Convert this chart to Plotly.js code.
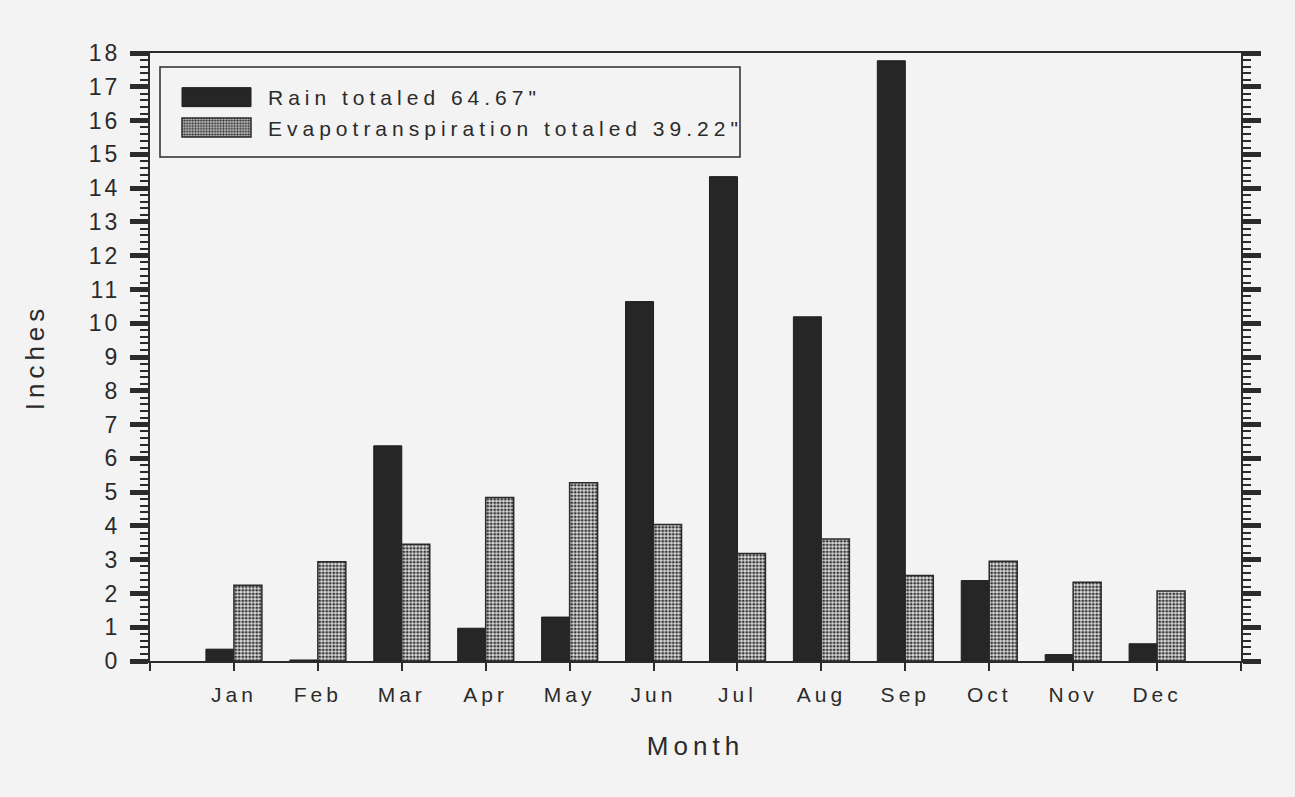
<!DOCTYPE html>
<html>
<head>
<meta charset="utf-8">
<script src="https://cdn.plot.ly/plotly-3.0.1.min.js"></script>
<style>
  html, body { margin: 0; padding: 0; background: #f3f3f3; }
  #chart { width: 1295px; height: 797px; }
  .xtick text { letter-spacing: 4px; }
  .ytick text { letter-spacing: 3px; }
  .legendtext { letter-spacing: 5px; }
  .xtitle, .ytitle { letter-spacing: 5px; }
</style>
</head>
<body>
<div id="chart"></div>
<script>
// ---- data ----
const months = ["Jan","Feb","Mar","Apr","May","Jun","Jul","Aug","Sep","Oct","Nov","Dec"];
const rain = [0.35, 0.03, 6.37, 0.97, 1.30, 10.64, 14.34, 10.19, 17.77, 2.38, 0.19, 0.51];
const evapotranspiration = [2.24, 2.94, 3.46, 4.84, 5.28, 4.04, 3.18, 3.61, 2.53, 2.95, 2.33, 2.07];
const rainName = 'Rain totaled 64.67"';
const etName = 'Evapotranspiration totaled 39.22"';
const yTicks = [0,1,2,3,4,5,6,7,8,9,10,11,12,13,14,15,16,17,18];

const idx = months.map((m, i) => i);
const tickVals = [-1].concat(idx, [months.length]);
const tickText = [""].concat(months, [""]);

const ink = "#2b2b2b";
const font = "Liberation Sans, Arial, sans-serif";

const traces = [
  {
    type: "bar", name: rainName, x: idx, y: rain,
    legendgroup: "rain",
    marker: { color: "#262626", line: { color: "#1e1e1e", width: 1 } },
    hoverinfo: "y"
  },
  {
    type: "bar", name: etName, x: idx, y: evapotranspiration,
    legendgroup: "et",
    marker: {
      color: "#333333",
      line: { color: "#2a2a2a", width: 1.5 },
      pattern: { shape: ".", fgcolor: "#333333", bgcolor: "#dadada", size: 3.5, solidity: 0.5, fillmode: "replace" }
    },
    hoverinfo: "y"
  }
];

const PL = 150, PR = 1241, PT = 53, PB = 661;
const pw = PR - PL, ph = PB - PT;

const layout = {
  width: 1295, height: 797,
  paper_bgcolor: "#f3f3f3", plot_bgcolor: "#f3f3f3",
  margin: { l: PL, r: 1295 - PR, t: PT, b: 797 - PB, pad: 0 },
  barmode: "group", bargap: 0.333, bargroupgap: 0,
  font: { family: font, color: ink },
  showlegend: true,
  legend: {
    x: (165 - PL) / pw, xanchor: "left",
    y: (PB - 77) / ph, yanchor: "top",
    bgcolor: "rgba(0,0,0,0)", borderwidth: 0,
    font: { family: font, size: 21, color: ink },
    traceorder: "grouped", tracegroupgap: 0,
    itemwidth: 93, itemclick: false, itemdoubleclick: false
  },
  xaxis: {
    range: [-1, months.length],
    tickmode: "array", tickvals: tickVals, ticktext: tickText,
    ticks: "outside", ticklen: 8, tickwidth: 2, tickcolor: ink,
    showline: true, linecolor: ink, linewidth: 2, mirror: true,
    showgrid: false, zeroline: false,
    tickfont: { family: font, size: 21, color: ink },
    ticklabelstandoff: 6,
    title: { text: "Month", font: { family: font, size: 26, color: ink }, standoff: 32 },
    fixedrange: true
  },
  yaxis: {
    range: [0, 18],
    tickmode: "array", tickvals: yTicks, ticktext: yTicks.map(String),
    ticks: "outside", ticklen: 18, tickwidth: 5, tickcolor: ink,
    minor: { dtick: 0.2, tick0: 0, ticks: "outside", ticklen: 8, tickwidth: 2, tickcolor: ink, showgrid: false },
    showline: true, linecolor: ink, linewidth: 2, mirror: "ticks",
    showgrid: false, zeroline: false,
    tickfont: { family: font, size: 23, color: ink },
    ticklabelstandoff: 5,
    title: { text: "Inches", font: { family: font, size: 26, color: ink }, standoff: 37 },
    fixedrange: true
  },
  shapes: [
    { type: "rect", xref: "paper", yref: "paper",
      x0: (160 - PL) / pw, x1: (740 - PL) / pw,
      y0: (PB - 157) / ph, y1: (PB - 67) / ph,
      line: { color: ink, width: 1.5 }, fillcolor: "rgba(0,0,0,0)", layer: "above" }
  ]
};

function fixSwatches() {
  document.querySelectorAll("#chart .legend .legendpoints path").forEach(function (p) {
    p.setAttribute("d", "M34.5,9.5H-34.5V-9.5H34.5Z");
  });
}

Plotly.newPlot("chart", traces, layout, { displayModeBar: false, staticPlot: true }).then(function (gd) {
  fixSwatches();
  gd.on("plotly_afterplot", fixSwatches);
});
</script>
</body>
</html>
